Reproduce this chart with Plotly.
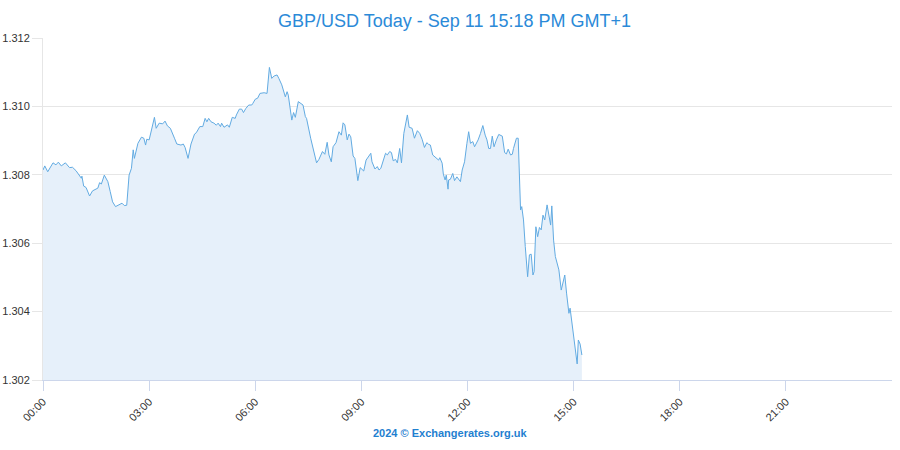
import plotly.graph_objects as go

DAY = "2024-09-11"

times = [
    "00:00","00:03","00:08","00:17","00:22","00:26","00:31","00:38","00:45","00:50",
    "00:56","01:05","01:06","01:09","01:13","01:19","01:24","01:33","01:36","01:39",
    "01:44","01:50","01:54","01:58","02:03","02:10","02:14","02:18","02:22","02:26",
    "02:30","02:33","02:35","02:41","02:43","02:47","02:51","02:54","02:56","03:00",
    "03:04","03:09","03:12","03:17","03:23","03:27","03:31","03:36","03:43","03:47",
    "03:54","03:58","04:01","04:06","04:11","04:17","04:20","04:26","04:31","04:35",
    "04:38","04:41","04:45","04:50","04:54","04:57","05:01","05:03","05:07","05:13",
    "05:16","05:21","05:26","05:28","05:33","05:37","05:40","05:44","05:49","05:54",
    "05:56","06:00","06:04","06:08","06:15","06:20","06:24","06:28","06:32","06:37",
    "06:40","06:45","06:51","06:54","06:56","07:02","07:05","07:08","07:13","07:17",
    "07:21","07:25","07:27","07:34","07:40","07:44","07:48","07:54","07:58","08:02",
    "08:05","08:09","08:12","08:17","08:22","08:26","08:29","08:32","08:36","08:39",
    "08:42","08:46","08:49","08:51","08:54","08:58","09:02","09:04","09:08","09:16",
    "09:18","09:23","09:27","09:30","09:33","09:37","09:41","09:44","09:48","09:51",
    "09:54","09:58","10:01","10:05","10:08","10:12","10:15","10:18","10:21","10:26",
    "10:30","10:35","10:39","10:43","10:47","10:51","10:54","10:57","11:01","11:07",
    "11:11","11:13","11:17","11:19","11:22","11:24","11:27","11:28","11:31","11:35",
    "11:38","11:42","11:45","11:48","11:51","11:55","11:59","12:02","12:05","12:09",
    "12:12","12:18","12:22","12:26","12:30","12:33","12:36","12:39","12:42","12:45",
    "12:49","12:53","12:59","13:03","13:06","13:09","13:13","13:16","13:18","13:23",
    "13:26","13:28","13:30","13:32","13:35","13:38","13:42","13:45","13:48","13:51",
    "13:53","13:56","13:59","14:02","14:05","14:08","14:11","14:15","14:18","14:21",
    "14:23","14:26","14:29","14:35","14:39","14:42","14:45","14:48","14:52","14:54",
    "14:58","15:02","15:06","15:08","15:11","15:14",
]

rates = [
    1.30814,1.30826,1.30809,1.30835,1.30829,1.30837,1.30826,1.30835,1.30821,1.30822,
    1.30812,1.30790,1.30796,1.30767,1.30763,1.30738,1.30753,1.30761,1.30777,1.30773,
    1.30799,1.30780,1.30751,1.30721,1.30707,1.30712,1.30717,1.30710,1.30711,1.30799,
    1.30819,1.30873,1.30848,1.30892,1.30897,1.30910,1.30907,1.30887,1.30904,1.30902,
    1.30931,1.30968,1.30936,1.30951,1.30949,1.30957,1.30943,1.30936,1.30907,1.30890,
    1.30887,1.30890,1.30880,1.30848,1.30890,1.30919,1.30923,1.30941,1.30941,1.30965,
    1.30955,1.30965,1.30955,1.30951,1.30945,1.30951,1.30941,1.30951,1.30939,1.30946,
    1.30939,1.30968,1.30965,1.30975,1.30992,1.30992,1.30982,1.30994,1.31004,1.31004,
    1.31009,1.31021,1.31024,1.31038,1.31040,1.31038,1.31114,1.31082,1.31089,1.31092,
    1.31082,1.31063,1.31028,1.31043,1.31033,1.30960,1.30982,1.30968,1.31014,1.31009,
    1.31004,1.30970,1.30965,1.30907,1.30868,1.30835,1.30845,1.30868,1.30860,1.30895,
    1.30858,1.30838,1.30882,1.30894,1.30926,1.30916,1.30952,1.30946,1.30902,1.30919,
    1.30911,1.30855,1.30848,1.30824,1.30783,1.30821,1.30812,1.30811,1.30843,1.30863,
    1.30838,1.30817,1.30824,1.30814,1.30819,1.30843,1.30863,1.30858,1.30868,1.30865,
    1.30841,1.30845,1.30835,1.30877,1.30835,1.30921,1.30955,1.30975,1.30939,1.30936,
    1.30907,1.30929,1.30921,1.30904,1.30880,1.30894,1.30889,1.30887,1.30858,1.30848,
    1.30843,1.30850,1.30834,1.30802,1.30785,1.30799,1.30758,1.30785,1.30787,1.30804,
    1.30783,1.30794,1.30785,1.30780,1.30814,1.30838,1.30892,1.30926,1.30892,1.30897,
    1.30882,1.30902,1.30921,1.30944,1.30916,1.30902,1.30877,1.30877,1.30913,1.30882,
    1.30902,1.30918,1.30913,1.30865,1.30861,1.30875,1.30858,1.30860,1.30877,1.30907,
    1.30907,1.30814,1.30697,1.30707,1.30668,1.30590,1.30502,1.30566,1.30568,1.30507,
    1.30517,1.30648,1.30619,1.30646,1.30639,1.30682,1.30668,1.30712,1.30677,1.30653,
    1.30709,1.30609,1.30561,1.30522,1.30463,1.30483,1.30507,1.30454,1.30395,1.30410,
    1.30351,1.30288,1.30247,1.30317,1.30305,1.30273,
]

y_ticks = [1.302, 1.304, 1.306, 1.308, 1.310, 1.312]
x_tick_labels = ["00:00", "03:00", "06:00", "09:00", "12:00", "15:00", "18:00", "21:00"]

title_text = "GBP/USD Today - Sep 11 15:18 PM GMT+1"
credit_text = "2024 © Exchangerates.org.uk"

xs = [f"{DAY} {t}" for t in times]
x_tick_vals = [f"{DAY} {t}" for t in x_tick_labels]

ML, MR, MT, MB = 43, 8, 38, 70

fig = go.Figure()
fig.add_trace(go.Scatter(
    x=xs, y=rates, mode="lines",
    line=dict(color="#62abe2", width=1),
    fill="tozeroy", fillcolor="#e6f0fa",
    hoverinfo="x+y", showlegend=False,
))

fig.update_layout(
    width=900, height=450,
    margin=dict(l=ML, r=MR, t=MT, b=MB, autoexpand=False),
    paper_bgcolor="white", plot_bgcolor="white",
    font=dict(family="Liberation Sans, Arial, sans-serif", color="#333333", size=11),
    title=dict(text=title_text, x=0.505, xref="container", xanchor="center",
               y=0.955, yref="container", yanchor="middle",
               font=dict(size=18, color="#2b8ad8", family="Liberation Sans, Arial, sans-serif")),
    xaxis=dict(
        type="date", automargin=False,
        range=[f"{DAY} 00:00", "2024-09-12 00:00"],
        tickmode="array", tickvals=x_tick_vals, ticktext=x_tick_labels,
        tickangle=-45, ticks="outside", ticklen=10, tickcolor="#ccd6eb", tickwidth=1,
        showgrid=False, showline=True, linecolor="#ccd6eb", linewidth=1,
        zeroline=False, tickfont=dict(size=11, color="#333333"),
    ),
    yaxis=dict(
        range=[1.302, 1.312], automargin=False,
        tickmode="array", tickvals=y_ticks, ticktext=[f"{v:.3f}" for v in y_ticks],
        ticks="outside", ticklen=10, tickcolor="#e6e6e6", tickwidth=1,
        showgrid=True, gridcolor="#e6e6e6", gridwidth=1,
        showline=True, linecolor="#e6e6e6", linewidth=1,
        zeroline=False, tickfont=dict(size=11, color="#333333"),
    ),
)

plot_w = 900 - ML - MR
plot_h = 450 - MT - MB
fig.add_annotation(
    text=f"<b>{credit_text}</b>",
    x=(450 - ML) / plot_w, xref="paper", xanchor="center",
    y=(450 - MB - 433) / plot_h, yref="paper", yanchor="middle",
    showarrow=False, font=dict(size=11, color="#1f80d0"),
)

fig.write_html("out.html")
